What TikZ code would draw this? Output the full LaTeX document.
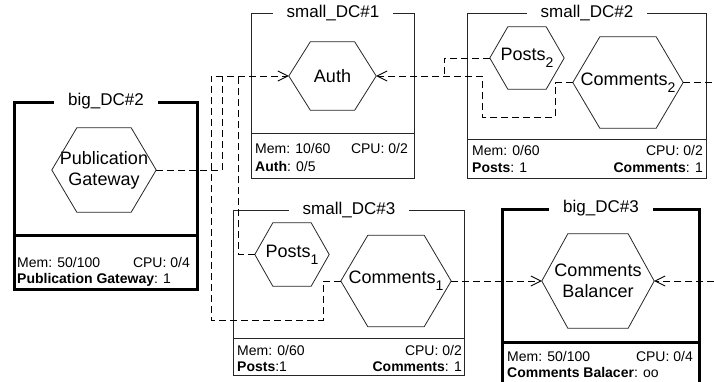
\documentclass[tikz,border=0pt]{standalone}
\usepackage{fontspec}
\setmainfont{Liberation Sans}
\usetikzlibrary{arrows.meta}
\newcommand\hexshape[2]{\draw[hexline] (#1.west) -- ([xshift=#2]#1.north west) -- ([xshift=-#2]#1.north east) -- (#1.east) -- ([xshift=-#2]#1.south east) -- ([xshift=#2]#1.south west) -- cycle;}
\newcommand\lowsub[1]{\raisebox{-7pt}{\fontsize{14}{14}\selectfont #1}}
\begin{document}
\begin{tikzpicture}[x=1pt,y=-1pt,
  bigframe/.style={draw=black, line width=3pt},
  smallframe/.style={draw=black!85, line width=0.9pt},
  bigline/.style={black, line width=3pt},
  smallline/.style={black!85, line width=0.9pt},
  titlebox/.style={fill=white, inner xsep=14pt, inner ysep=1pt, font=\fontsize{17}{20}\selectfont},
  hexnode/.style={inner sep=0pt, align=center, font=\fontsize{18}{21}\selectfont},
  hexline/.style={black!85, line width=0.8pt, line join=miter},
  conn/.style={black, line width=0.9pt, dash pattern=on 7pt off 4pt},
  arr/.style={-{Straight Barb[length=10pt,width=10pt]}},
  info/.style={inner sep=0pt, font=\fontsize{14}{16}\selectfont},
]
\useasboundingbox (0,0) rectangle (714,381);

% frames
\node[bigframe, anchor=north west, minimum width=183pt, minimum height=187pt] (bdc2) at (13,101) {};
\draw[bigline] (13,235) -- (196,235);
\node[smallframe, anchor=north west, minimum width=163pt, minimum height=165pt] (sdc1) at (251,13) {};
\draw[smallline] (251,133) -- (414,133);
\node[smallframe, anchor=north west, minimum width=239pt, minimum height=165pt] (sdc2) at (467,13) {};
\draw[smallline] (467,139) -- (706,139);
\node[smallframe, anchor=north west, minimum width=231pt, minimum height=165pt] (sdc3) at (233,210) {};
\draw[smallline] (233,338) -- (464,338);
\node[bigframe, anchor=north west, minimum width=197pt, minimum height=178pt] (bdc3) at (501,208) {};
\draw[bigline] (501,342) -- (698,342);

% titles
\node[titlebox] (t2) at (bdc2.north) {big\_DC\#2};
\node[titlebox] (t11) at (sdc1.north) {small\_DC\#1};
\node[titlebox] (t12) at (sdc2.north) {small\_DC\#2};
\node[titlebox] (t13) at (sdc3.north) {small\_DC\#3};
\node[titlebox] (t3) at (bdc3.north) {big\_DC\#3};

% hexagons
\node[hexnode, minimum width=104pt, minimum height=84pt] (PG) at (104,170) {Publication\\Gateway};
\hexshape{PG}{25pt}
\node[hexnode, minimum width=87pt, minimum height=68pt] (Auth) at (332.5,76) {Auth};
\hexshape{Auth}{21.5pt}
\node[hexnode, minimum width=74pt, minimum height=62pt] (P2) at (527,58) {Posts\lowsub{2}};
\hexshape{P2}{18pt}
\node[hexnode, minimum width=110pt, minimum height=91pt] (C2) at (628,82.5) {Comments\lowsub{2}};
\hexshape{C2}{27pt}
\node[hexnode, minimum width=74pt, minimum height=63pt] (P1) at (292,254.5) {Posts\lowsub{1}};
\hexshape{P1}{18pt}
\node[hexnode, minimum width=110pt, minimum height=91pt] (C1) at (396,281) {Comments\lowsub{1}};
\hexshape{C1}{27pt}
\node[hexnode, minimum width=112pt, minimum height=94pt] (CB) at (598,281) {Comments\\Balancer};
\hexshape{CB}{26pt}

% connectors
\coordinate (jA) at (211,76);
\coordinate (jB) at (222,76);
\coordinate (jC) at (238,76);
\coordinate (kC) at (323,320);
\draw[conn,arr] (C1.west) -| (kC) -| (jA) -- (Auth.west);
\draw[conn] (PG.east) -| (jB);
\draw[conn] (P1.west) -| (jC);
\coordinate (jD) at (482,76);
\coordinate (kD) at (555,117);
\coordinate (jE) at (444,76);
\draw[conn,arr] (C2.west) -| (kD) -| (jD) -- (Auth.east);
\draw[conn] (P2.west) -| (jE);
\draw[conn,arr] (C1.east) -- (CB.west);
\coordinate (jF) at (715,281);
\draw[conn,arr] (C2.east) -| (jF) -- (CB.east);

% info texts
\node[info, anchor=base west] (m2) at (17,267) {Mem: 50/100};
\node[info, anchor=base east] (u2) at (190,267) {CPU: 0/4};
\node[info, anchor=base west] (s2) at (17,283) {\textbf{Publication Gateway}: 1};

\node[info, anchor=base west] (m11) at (255,153) {Mem: 10/60};
\node[info, anchor=base east] (u11) at (408,153) {CPU: 0/2};
\node[info, anchor=base west] (s11) at (255,171) {\textbf{Auth}: 0/5};

\node[info, anchor=base west] (m12) at (472,155) {Mem: 0/60};
\node[info, anchor=base east] (u12) at (703,155) {CPU: 0/2};
\node[info, anchor=base west] (s12) at (472,172) {\textbf{Posts}: 1};
\node[info, anchor=base east] (r12) at (703,172) {\textbf{Comments}: 1};

\node[info, anchor=base west] (m13) at (237,355) {Mem: 0/60};
\node[info, anchor=base east] (u13) at (462,355) {CPU: 0/2};
\node[info, anchor=base west] (s13) at (237,371) {\textbf{Posts}:1};
\node[info, anchor=base east] (r13) at (462,371) {\textbf{Comments}: 1};

\node[info, anchor=base west] (m3) at (507,361) {Mem: 50/100};
\node[info, anchor=base east] (u3) at (693,361) {CPU: 0/4};
\node[info, anchor=base west] (s3) at (507,377) {\textbf{Comments Balacer}: oo};
\end{tikzpicture}
\end{document}
